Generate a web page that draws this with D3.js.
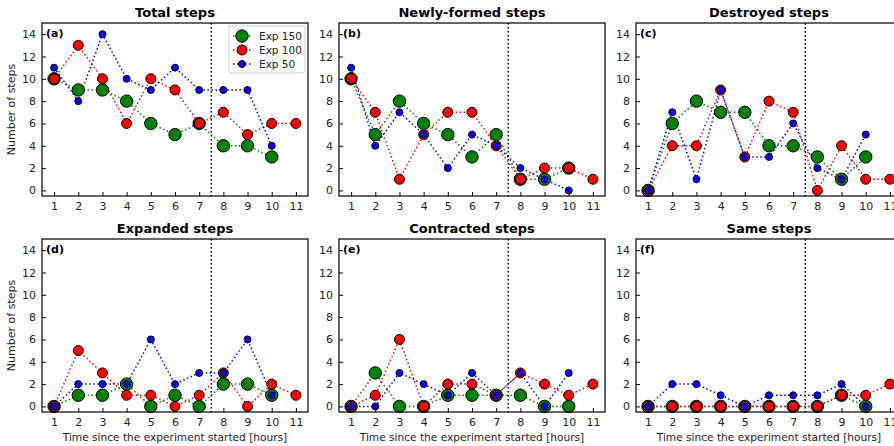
<!DOCTYPE html>
<html><head><meta charset="utf-8">
<script src="https://cdn.jsdelivr.net/npm/d3@7"></script>
<style>body{margin:0;background:#fff}svg{display:block;font-family:"DejaVu Sans",sans-serif}</style>
</head><body><svg id="c" width="894" height="446"></svg>
<script>
const hours = [1,2,3,4,5,6,7,8,9,10,11];
const yTicks = [0,2,4,6,8,10,12,14];
const titles = ["Total steps","Newly-formed steps","Destroyed steps","Expanded steps","Contracted steps","Same steps"];
const labels = ["(a)","(b)","(c)","(d)","(e)","(f)"];
const seriesNames = ["Exp 150","Exp 100","Exp 50"];
const seriesColors = ["#008000","#ff0000","#0000ff"];
// per panel: Exp150, Exp100, Exp50
const total150 = [10,9,9,8,6,5,6,4,4,3];
const total100 = [10,13,10,6,10,9,6,7,5,6,6];
const total50  = [11,8,14,10,9,11,9,9,9,4];
const new150 = [10,5,8,6,5,3,5,1,1,2];
const new100 = [10,7,1,5,7,7,4,1,2,2,1];
const new50  = [11,4,7,5,2,5,4,2,1,0];
const des150 = [0,6,8,7,7,4,4,3,1,3];
const des100 = [0,4,4,9,3,8,7,0,4,1,1];
const des50  = [0,7,1,9,3,3,6,2,1,5];
const exp150 = [0,1,1,2,0,1,0,2,2,1];
const exp100 = [0,5,3,1,1,0,1,3,0,2,1];
const exp50  = [0,2,2,2,6,2,3,3,6,1];
const con150 = [0,3,0,0,1,1,1,1,0,0];
const con100 = [0,1,6,0,2,2,1,3,2,1,2];
const con50  = [0,0,3,2,1,3,1,3,0,3];
const same150 = [0,0,0,0,0,0,0,0,1,0];
const same100 = [0,0,0,0,0,0,0,0,1,1,2];
const same50  = [0,2,2,1,0,1,1,1,2,0];
const panelData = [
  [total150,total100,total50],[new150,new100,new50],[des150,des100,des50],
  [exp150,exp100,exp50],[con150,con100,con50],[same150,same100,same50]
];
const splitX = 7.5;

const svg = d3.select("#c");
const W = 266, H = 173;
const lefts = [42,339,636], tops = [23,239];
const radii = [6.2,5,3.5];

panelData.forEach((series,pi)=>{
  const col = pi%3, row = Math.floor(pi/3);
  const g = svg.append("g").attr("transform",`translate(${lefts[col]},${tops[row]})`);
  const x = d3.scaleLinear().domain([0.5,11.5]).range([0,W]);
  const y = d3.scaleLinear().domain([-0.5,15]).range([H,0]);
  g.append("line").attr("x1",x(splitX)).attr("x2",x(splitX)).attr("y1",0).attr("y2",H)
    .attr("stroke","#000").attr("stroke-width",1.5).attr("stroke-dasharray","1.5,2.5");
  const xa = g.append("g").attr("transform",`translate(0,${H})`)
    .call(d3.axisBottom(x).tickValues(hours).tickSize(-4).tickPadding(6).tickFormat(d3.format("d")));
  const ya = g.append("g").call(d3.axisLeft(y).tickValues(yTicks).tickSize(-4).tickPadding(6).tickFormat(d3.format("d")));
  [xa,ya].forEach(a=>{a.select(".domain").remove();a.selectAll("text").attr("font-size",11).attr("fill","#222").attr("font-family","DejaVu Sans");a.selectAll("line").attr("stroke","#000");});
  series.forEach((vals,si)=>{
    const pts = vals.map((v,i)=>[hours[i],v]);
    g.append("path").datum(pts)
      .attr("d",d3.line().x(d=>x(d[0])).y(d=>y(d[1])))
      .attr("fill","none").attr("stroke",seriesColors[si]).attr("stroke-width",1.5)
      .attr("stroke-dasharray","1.5,2.5");
  });
  series.forEach((vals,si)=>{
    g.selectAll(null).data(vals.map((v,i)=>[hours[i],v])).enter().append("circle")
      .attr("cx",d=>x(d[0])).attr("cy",d=>y(d[1])).attr("r",radii[si])
      .attr("fill",seriesColors[si]).attr("stroke","#000").attr("stroke-width",1);
  });
  g.append("rect").attr("width",W).attr("height",H).attr("fill","none").attr("stroke","#000").attr("stroke-width",1.2);
  g.append("text").attr("x",W/2).attr("y",-6).attr("text-anchor","middle")
    .attr("font-size",13).attr("font-weight","bold").text(titles[pi]);
  g.append("text").attr("x",4).attr("y",14).attr("font-size",11).attr("font-weight","bold").text(labels[pi]);
  if(col===0){
    g.append("text").attr("transform",`translate(-27,${H/2}) rotate(-90)`).attr("text-anchor","middle")
      .attr("font-size",11).attr("fill","#222").text("Number of steps");
  }
  if(row===1){
    g.append("text").attr("x",W/2).attr("y",H+29).attr("text-anchor","middle")
      .attr("font-size",10.6).attr("fill","#222").text("Time since the experiment started [hours]");
  }
  if(pi===0){
    const lg = g.append("g").attr("transform",`translate(${W-79},3)`);
    lg.append("rect").attr("width",76).attr("height",47).attr("rx",2).attr("fill","#fff")
      .attr("stroke","#ccc").attr("stroke-width",1);
    seriesNames.forEach((n,si)=>{
      const yy = 10+si*14;
      lg.append("line").attr("x1",4).attr("x2",22).attr("y1",yy).attr("y2",yy)
        .attr("stroke",seriesColors[si]).attr("stroke-width",1.5).attr("stroke-dasharray","1.5,2.5");
      lg.append("circle").attr("cx",13).attr("cy",yy).attr("r",radii[si])
        .attr("fill",seriesColors[si]).attr("stroke","#000").attr("stroke-width",1);
      lg.append("text").attr("x",30).attr("y",yy+4).attr("font-size",10.5).attr("fill","#222").text(n);
    });
  }
});
</script></body></html>
